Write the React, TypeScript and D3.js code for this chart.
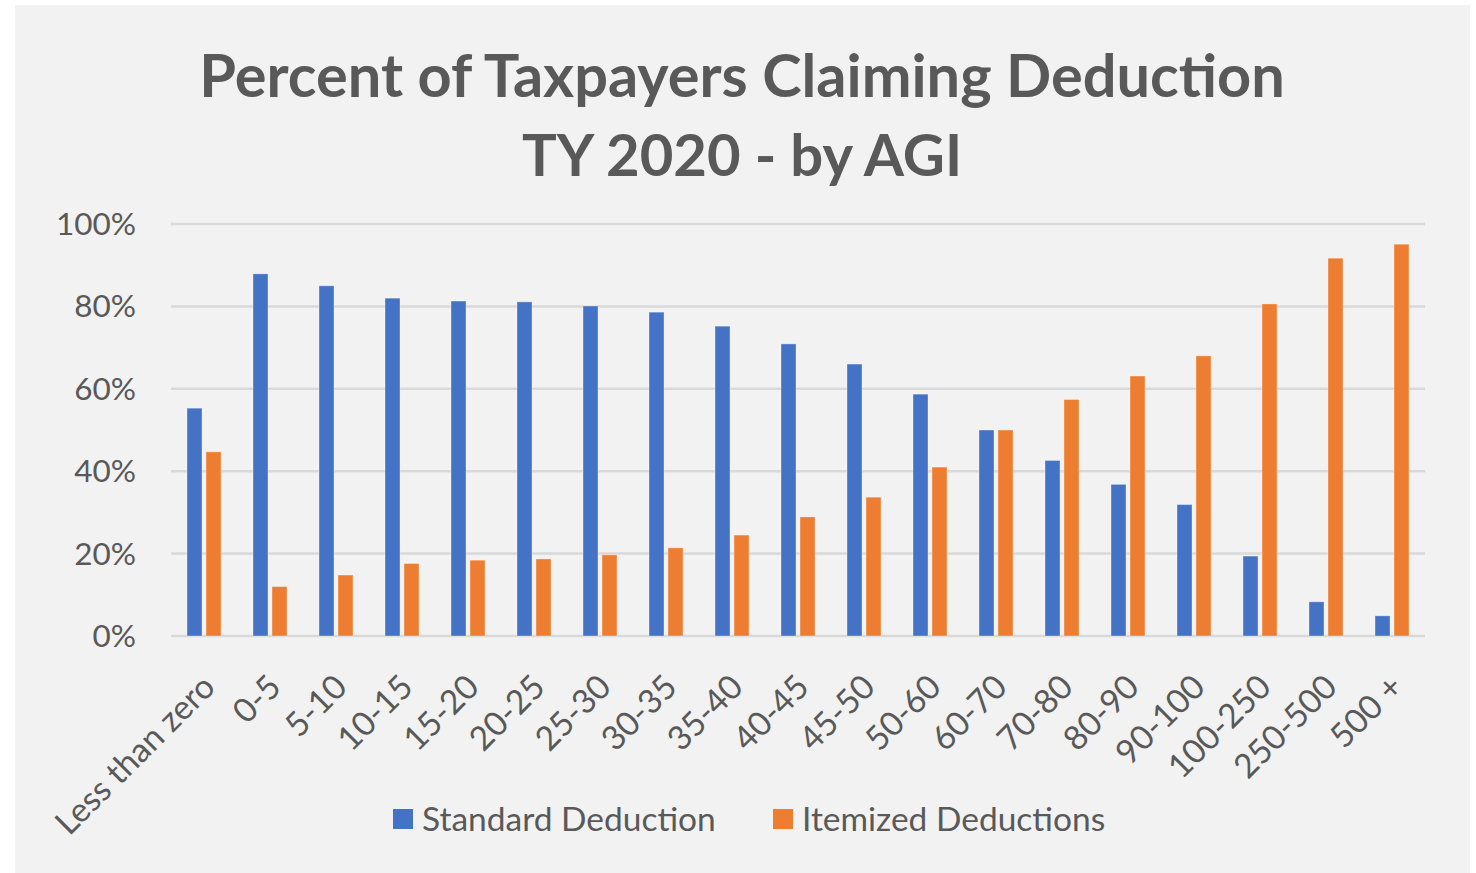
import React from 'react';
import * as d3 from 'd3';

const categories = ['Less than zero', '0-5', '5-10', '10-15', '15-20', '20-25', '25-30', '30-35', '35-40', '40-45', '45-50', '50-60', '60-70', '70-80', '80-90', '90-100', '100-250', '250-500', '500 +'];
const standardValues = [55.3, 87.9, 85.0, 82.0, 81.3, 81.1, 80.1, 78.6, 75.2, 70.9, 66.0, 58.7, 50.0, 42.6, 36.8, 31.9, 19.4, 8.3, 4.9];
const itemizedValues = [44.7, 12.0, 14.8, 17.6, 18.4, 18.7, 19.7, 21.4, 24.5, 28.9, 33.7, 41.0, 50.0, 57.4, 63.1, 68.0, 80.6, 91.7, 95.1];
const seriesNames = ['Standard Deduction', 'Itemized Deductions'];
const seriesColors = ['#4472c4', '#ed7d31'];
const yTicks = [0, 20, 40, 60, 80, 100];
const titleLines = ['Percent of Taxpayers Claiming Deduction', 'TY 2020 - by AGI'];

const W = 1476, H = 873;
const FONT = 'Lato, "Open Sans", sans-serif';
const TEXT = '#595959';

export default function App() {
  const margin = { left: 171, right: 51, top: 224, bottom: 237 };
  const x = d3.scaleBand<string>()
    .domain(categories)
    .range([margin.left, W - margin.right])
    .paddingInner(0.485)
    .paddingOuter(0.2425);
  const xs = d3.scaleBand<number>()
    .domain([0, 1])
    .range([0, x.bandwidth()])
    .paddingInner(0.21);
  const y = d3.scaleLinear().domain([0, 100]).range([H - margin.bottom, margin.top]);

  const series = [standardValues, itemizedValues];

  return (
    <div style={{ position: 'absolute', left: 0, top: 0 }}>
      <svg width={W} height={H} style={{ display: 'block' }}>
        <rect x={0} y={0} width={W} height={H} fill="#ffffff" />
        <rect x={15} y={5} width={1455} height={868} fill="#f2f2f2" />

        {titleLines.map((t, i) => (
          <text key={t} x={742} y={97 + i * 79} textAnchor="middle" fontFamily={FONT}
            fontWeight={700} fontSize={i === 0 ? 59.5 : 58} fill={TEXT}>{t}</text>
        ))}

        {/* grid */}
        {yTicks.map(t => (
          <g key={t}>
            <line x1={margin.left} x2={W - margin.right} y1={y(t)} y2={y(t)} stroke="#d9d9d9" strokeWidth={2.5} />
            <text x={136} y={y(t) + 11} textAnchor="end" fontFamily={FONT} fontSize={31.5} fill={TEXT}>{t}%</text>
          </g>
        ))}

        {/* bars */}
        {series.map((vals, si) => (
          <g key={si}>
            {vals.map((v, i) => (
              <rect key={i}
                x={(x(categories[i]) ?? 0) + (xs(si) ?? 0)}
                y={y(v)}
                width={xs.bandwidth()}
                height={y(0) - y(v)}
                fill={seriesColors[si]}
                stroke="#ffffff" strokeOpacity={0.35} strokeWidth={1} />
            ))}
          </g>
        ))}

        {/* x labels */}
        {categories.map(c => {
          const cx = (x(c) ?? 0) + x.bandwidth() / 2 + 13;
          return (
            <text key={c} transform={`translate(${cx},${689}) rotate(-45)`} textAnchor="end"
              fontFamily={FONT} fontSize={33.5} fill={TEXT}>{c}</text>
          );
        })}

        {/* legend */}
        {seriesNames.map((n, i) => {
          const lx = [393, 773][i];
          return (
            <g key={n}>
              <rect x={lx} y={809} width={20} height={20} fill={seriesColors[i]} />
              <text x={lx + 29} y={831} fontFamily={FONT} fontSize={33.5} fill={TEXT}>{n}</text>
            </g>
          );
        })}
      </svg>
    </div>
  );
}
